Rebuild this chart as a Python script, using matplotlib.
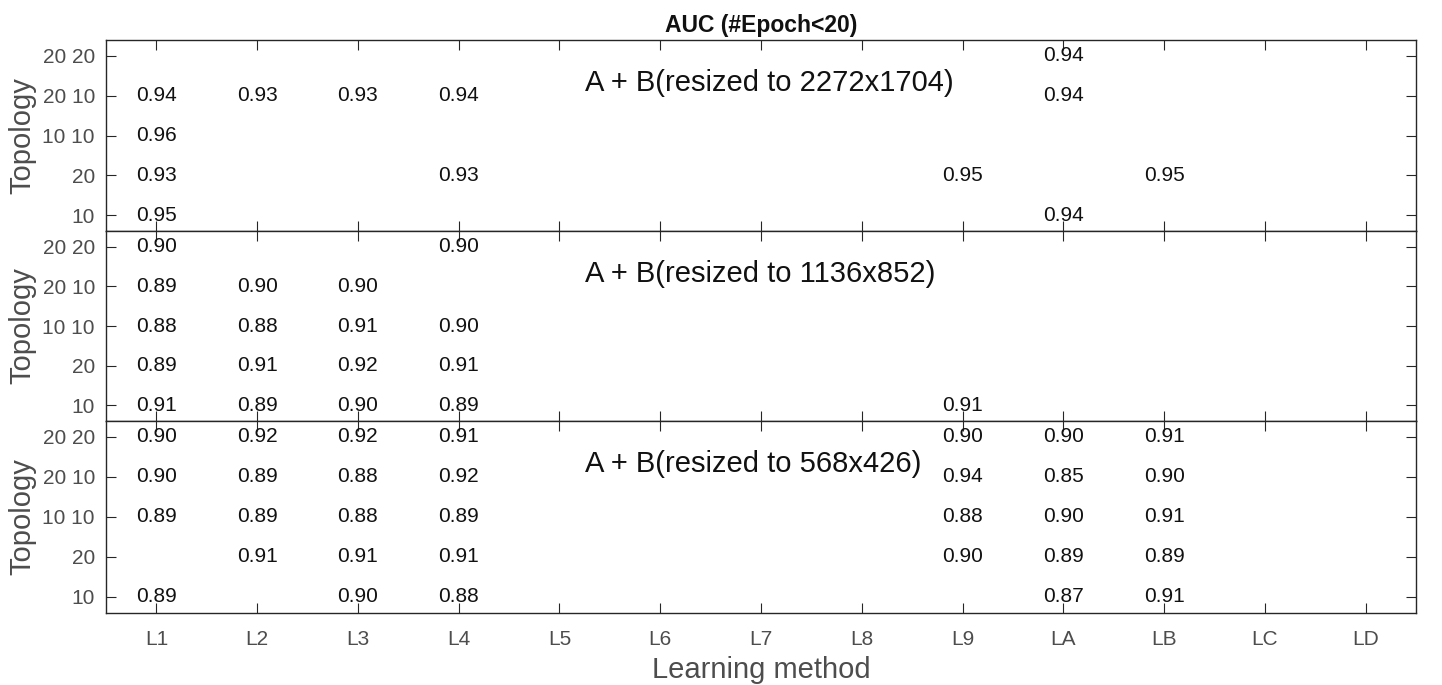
import numpy as np
import matplotlib
matplotlib.use("Agg")
import matplotlib.pyplot as plt

plt.rcParams["font.family"] = ["Liberation Sans", "DejaVu Sans"]

# ------------------------------------------------------------
# datos
# ------------------------------------------------------------
metodos = ["L1", "L2", "L3", "L4", "L5", "L6", "L7",
           "L8", "L9", "LA", "LB", "LC", "LD"]
topologias = ["10", "20", "10 10", "20 10", "20 20"]  # de abajo hacia arriba

titulos = ["A + B(resized to 2272x1704)",
           "A + B(resized to 1136x852)",
           "A + B(resized to 568x426)"]

N = None
# filas: 10, 20, 10 10, 20 10, 20 20 ; columnas: L1..LD
auc_2272 = [
    [0.95, N, N, N, N, N, N, N, N, 0.94, N, N, N],
    [0.93, N, N, 0.93, N, N, N, N, 0.95, N, 0.95, N, N],
    [0.96, N, N, N, N, N, N, N, N, N, N, N, N],
    [0.94, 0.93, 0.93, 0.94, N, N, N, N, N, 0.94, N, N, N],
    [N, N, N, N, N, N, N, N, N, 0.94, N, N, N],
]
auc_1136 = [
    [0.91, 0.89, 0.90, 0.89, N, N, N, N, 0.91, N, N, N, N],
    [0.89, 0.91, 0.92, 0.91, N, N, N, N, N, N, N, N, N],
    [0.88, 0.88, 0.91, 0.90, N, N, N, N, N, N, N, N, N],
    [0.89, 0.90, 0.90, N, N, N, N, N, N, N, N, N, N],
    [0.90, N, N, 0.90, N, N, N, N, N, N, N, N, N],
]
auc_568 = [
    [0.89, N, 0.90, 0.88, N, N, N, N, N, 0.87, 0.91, N, N],
    [N, 0.91, 0.91, 0.91, N, N, N, N, 0.90, 0.89, 0.89, N, N],
    [0.89, 0.89, 0.88, 0.89, N, N, N, N, 0.88, 0.90, 0.91, N, N],
    [0.90, 0.89, 0.88, 0.92, N, N, N, N, 0.94, 0.85, 0.90, N, N],
    [0.90, 0.92, 0.92, 0.91, N, N, N, N, 0.90, 0.90, 0.91, N, N],
]
paneles = [auc_2272, auc_1136, auc_568]

# ------------------------------------------------------------
# figura
# ------------------------------------------------------------
fig = plt.figure(figsize=(14.42, 6.85), dpi=100)

izq, ancho = 106 / 1442, 1310 / 1442
bordes = [40, 231, 421, 613]  # px desde arriba
color_eje = "#262626"
color_tick = "#4d4d4d"

x = np.arange(1, len(metodos) + 1)
y = np.arange(1, len(topologias) + 1)

ejes = []
for i, (datos, titulo) in enumerate(zip(paneles, titulos)):
    arriba, abajo = bordes[i], bordes[i + 1]
    ax = fig.add_axes([izq, 1 - abajo / 685, ancho, (abajo - arriba) / 685])
    ejes.append(ax)

    for fila, yy in zip(datos, y):
        for val, xx in zip(fila, x):
            if val is not None:
                ax.text(xx, yy, f"{val:.2f}", ha="center", va="center",
                        fontsize=15, color="#111111")

    ax.text(0.366, 0.775, titulo, transform=ax.transAxes, ha="left",
            va="center", fontsize=21, color="#111111")

    ax.set_xlim(0.5, len(metodos) + 0.5)
    ax.set_ylim(0.6, len(topologias) + 0.4)
    ax.set_xticks(x)
    ax.set_yticks(y)
    ax.set_yticklabels(topologias)
    ax.tick_params(direction="in", length=7, width=0.8, top=True,
                   right=True, colors=color_eje, labelcolor=color_tick,
                   labelsize=15)
    ax.tick_params(axis="y", pad=8)
    if i < 2:
        ax.set_xticklabels([])
    else:
        ax.set_xticklabels(metodos)
        ax.tick_params(axis="x", pad=12)
    for s in ax.spines.values():
        s.set_color(color_eje)
        s.set_linewidth(1.0)
    ax.set_ylabel("Topology", fontsize=21, color=color_tick, labelpad=4)

ejes[0].set_title("AUC (#Epoch<20)", fontsize=16.5, fontweight="bold",
                  color="#111111", pad=6)
ejes[-1].set_xlabel("Learning method", fontsize=21, color=color_tick,
                    labelpad=5)

fig.savefig("out.png", dpi=100)
